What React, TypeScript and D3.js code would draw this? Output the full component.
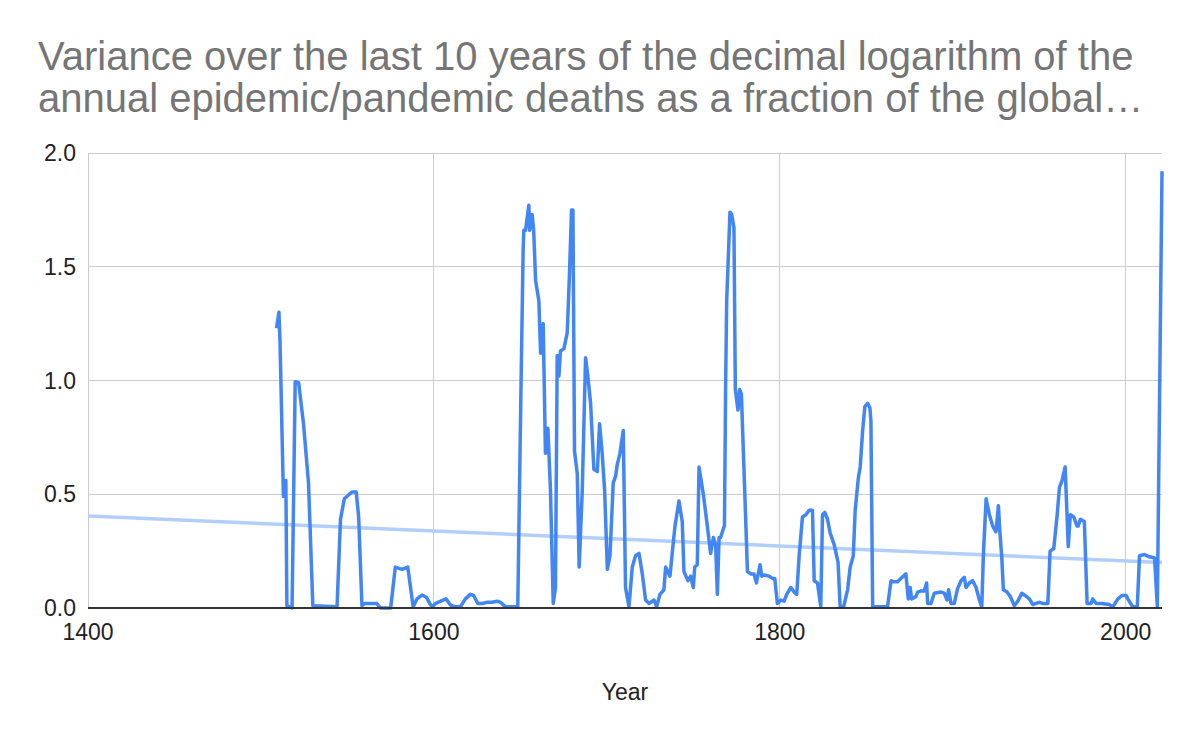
import React, { useEffect, useRef } from 'react';
import * as d3 from 'd3';

// values (year, variance)
const years = [
  1509, 1510.4, 1511, 1513, 1514.4, 1515, 1518, 1519.8, 1521.8, 1524.6, 1527.5, 1530,
  1544, 1546, 1548.2, 1552.6, 1555.1, 1556.5, 1558.4, 1560, 1567, 1569, 1575, 1577.7,
  1581.6, 1584.9, 1588, 1590.2, 1593.1, 1595.7, 1597.6, 1599, 1601, 1604, 1607, 1609.6,
  1612.4, 1615.3, 1618.2, 1621.1, 1623, 1625.4, 1628, 1630.4, 1633.7, 1636.6, 1638.5,
  1641.4, 1648.5, 1650.4, 1651.6, 1652, 1653, 1654.9, 1655.4, 1656.8, 1657.7, 1658.8,
  1660.7, 1661.7, 1663.2, 1664.5, 1665.9, 1667.4, 1669, 1670.3, 1671.3, 1672.3, 1673.2,
  1675.2, 1677.1, 1678.4, 1679.6, 1680.4, 1681.3, 1682.9, 1684, 1685.8, 1687.7, 1689,
  1690.6, 1692.5, 1694.5, 1695.8, 1697.3, 1698.7, 1700.3, 1701.8, 1703.7, 1705.1, 1706,
  1707.6, 1709.5, 1710.8, 1712.8, 1714.7, 1716.6, 1718.6, 1720.5, 1722.4, 1724.4, 1727.3,
  1728.8, 1730.7, 1733, 1734, 1736.5, 1737.8, 1739.4, 1741.7, 1743.6, 1744.6, 1746.9,
  1748.5, 1750, 1750.8, 1752.3, 1753.3, 1755.8, 1758.1, 1760, 1761.6, 1762.9, 1763.9,
  1764.9, 1765.8, 1767.4, 1768, 1768.7, 1769.3, 1771.2, 1772.2, 1773.5, 1774.3, 1775.8,
  1776.8, 1777.8, 1779.7, 1781.3, 1783.2, 1785.1, 1786.5, 1788.6, 1789.6, 1790.9, 1793.8,
  1795.7, 1797.1, 1798.6, 1800.6, 1802.5, 1804, 1806.4, 1808.3, 1809.8, 1811.2, 1813.1,
  1815.1, 1817, 1818.9, 1819.9, 1821.8, 1823.7, 1824.7, 1826, 1827.6, 1829.1, 1831.4,
  1833.7, 1834.9, 1836.9, 1839.2, 1840.7, 1842.5, 1843.6, 1845.4, 1846.5, 1847.9, 1849.2,
  1850.8, 1852.1, 1852.7, 1853.7, 1862.3, 1864.3, 1865.8, 1868.1, 1870, 1872.9, 1874.3,
  1875.4, 1876.2, 1878.7, 1879.7, 1881.6, 1883.5, 1884.9, 1885.5, 1887.4, 1889.3, 1893.2,
  1895.1, 1896.7, 1897.6, 1899, 1900.9, 1902.8, 1904.8, 1906.7, 1907.7, 1909.6, 1911.5,
  1913.5, 1915.4, 1916.8, 1917.7, 1919.3, 1921.2, 1923.1, 1925, 1926.4, 1927.3, 1928.3,
  1929.3, 1931.4, 1933.3, 1935.6, 1937.6, 1939.9, 1941.8, 1944.3, 1946.3, 1948.2, 1950.1,
  1952, 1955, 1956.3, 1958.4, 1960.4, 1961.7, 1963.2, 1965, 1966.8, 1968, 1970, 1971.9,
  1972.5, 1973.8, 1976.1, 1977.7, 1980, 1981, 1982.9, 1985.8, 1990.6, 1992.6, 1995.5,
  1997.8, 2000.3, 2001.6, 2004.1, 2006.7, 2008, 2010.9, 2013.8, 2016.7, 2018.3, 2021
];

const variance = [
  1.23, 1.30, 1.18, 0.49, 0.56, 0.01, 0.0, 0.995, 0.99, 0.81, 0.55, 0.01,
  0.005, 0.39, 0.48, 0.51, 0.51, 0.40, 0.01, 0.02, 0.02, 0.0, 0.0, 0.18,
  0.17, 0.18, 0.005, 0.04, 0.057, 0.047, 0.02, 0.005, 0.02, 0.03, 0.04, 0.013,
  0.005, 0.005, 0.04, 0.06, 0.055, 0.02, 0.02, 0.025, 0.025, 0.03, 0.025,
  0.005, 0.005, 0.99, 1.57, 1.66, 1.66, 1.77, 1.66, 1.73, 1.66, 1.44,
  1.35, 1.12, 1.25, 0.68, 0.79, 0.52, 0.02, 0.09, 1.11, 1.02, 1.13,
  1.14, 1.21, 1.47, 1.75, 1.75, 0.69, 0.59, 0.18, 0.52, 1.10, 1.02,
  0.90, 0.61, 0.60, 0.81, 0.68, 0.52, 0.17, 0.23, 0.55, 0.58, 0.63,
  0.68, 0.78, 0.09, 0.005, 0.18, 0.23, 0.24, 0.15, 0.035, 0.02, 0.035,
  0.005, 0.06, 0.08, 0.18, 0.14, 0.24, 0.36, 0.47, 0.38, 0.16, 0.12,
  0.14, 0.09, 0.18, 0.19, 0.62, 0.50, 0.36, 0.24, 0.31, 0.28, 0.06,
  0.31, 0.31, 0.35, 0.36, 0.99, 1.35, 1.74, 1.73, 1.67, 0.96, 0.87,
  0.96, 0.94, 0.52, 0.16, 0.15, 0.15, 0.11, 0.19, 0.14, 0.145, 0.14,
  0.13, 0.13, 0.02, 0.035, 0.03, 0.06, 0.09, 0.07, 0.06, 0.23, 0.40,
  0.41, 0.43, 0.43, 0.12, 0.11, 0.005, 0.41, 0.42, 0.39, 0.33, 0.28,
  0.20, 0.005, 0.005, 0.08, 0.18, 0.23, 0.43, 0.57, 0.62, 0.78, 0.885,
  0.90, 0.88, 0.82, 0.005, 0.005, 0.12, 0.115, 0.115, 0.13, 0.15, 0.04,
  0.09, 0.04, 0.05, 0.07, 0.075, 0.075, 0.11, 0.02, 0.02, 0.065, 0.07,
  0.065, 0.035, 0.08, 0.02, 0.02, 0.085, 0.12, 0.135, 0.09, 0.11, 0.12,
  0.09, 0.035, 0.005, 0.23, 0.48, 0.41, 0.36, 0.335, 0.45, 0.33, 0.23,
  0.08, 0.07, 0.05, 0.01, 0.03, 0.065, 0.055, 0.04, 0.015, 0.02, 0.025,
  0.02, 0.02, 0.25, 0.26, 0.41, 0.53, 0.56, 0.62, 0.27, 0.41, 0.40, 0.36,
  0.36, 0.39, 0.38, 0.02, 0.02, 0.04, 0.02, 0.02, 0.015, 0.005, 0.04,
  0.055, 0.055, 0.035, 0.005, 0.005, 0.23, 0.235, 0.225, 0.22, 0.005, 1.92
];

// linear trendline end values (at first and last x of the axis)
const trendYears = [1400, 2021];
const trendValues = [0.404, 0.2];

const xTicks = [1400, 1600, 1800, 2000];
const yTicks = [0, 0.5, 1.0, 1.5, 2.0];

const titleLines = [
  'Variance over the last 10 years of the decimal logarithm of the',
  'annual epidemic/pandemic deaths as a fraction of the global\u2026'
];
const xLabel = 'Year';

const width = 1200;
const height = 741;
const margins = { l: 88, t: 153, r: 38, b: 133 };
const FONT = '"Liberation Sans", Arial, sans-serif';

const App = () => {
  const container = useRef(null);

  useEffect(() => {
    document.body.style.margin = '0';
    createChart();
  }, []);

  const createChart = () => {
    const plotwidth = width - margins.l - margins.r;
    const plotheight = height - margins.t - margins.b;

    const svg = d3
      .select(container.current)
      .selectAll('svg')
      .data([0])
      .join('svg')
      .attr('width', width)
      .attr('height', height)
      .style('display', 'block')
      .style('background', '#fff');

    const xScale = d3.scaleLinear().domain([1400, 2021]).range([0, plotwidth]);
    const yScale = d3.scaleLinear().domain([0, 2]).range([plotheight, 0]);

    const plotg = svg
      .selectAll('.plotg')
      .data([0])
      .join('g')
      .attr('class', 'plotg')
      .attr('transform', `translate(${margins.l},${margins.t})`);

    // gridlines
    plotg
      .selectAll('.hgrid')
      .data(yTicks.filter(d => d > 0))
      .join('line')
      .attr('class', 'hgrid')
      .attr('x1', 0)
      .attr('x2', plotwidth)
      .attr('y1', d => yScale(d))
      .attr('y2', d => yScale(d))
      .style('stroke', '#cccccc')
      .style('stroke-width', 1)
      .attr('shape-rendering', 'crispEdges');

    plotg
      .selectAll('.vgrid')
      .data(xTicks)
      .join('line')
      .attr('class', 'vgrid')
      .attr('x1', d => xScale(d))
      .attr('x2', d => xScale(d))
      .attr('y1', 0)
      .attr('y2', plotheight)
      .style('stroke', '#cccccc')
      .style('stroke-width', 1)
      .attr('shape-rendering', 'crispEdges');

    // tick labels
    plotg
      .selectAll('.ylab')
      .data(yTicks)
      .join('text')
      .attr('class', 'ylab')
      .attr('x', -12)
      .attr('y', d => yScale(d) + 8)
      .attr('text-anchor', 'end')
      .style('font-family', FONT)
      .style('font-size', '23px')
      .style('fill', '#222222')
      .text(d => d3.format('.1f')(d));

    plotg
      .selectAll('.xlab')
      .data(xTicks)
      .join('text')
      .attr('class', 'xlab')
      .attr('x', d => xScale(d))
      .attr('y', plotheight + 32)
      .attr('text-anchor', 'middle')
      .style('font-family', FONT)
      .style('font-size', '23px')
      .style('fill', '#222222')
      .text(d => d);

    // trendline
    const trendData = trendYears.map((y, i) => ({ year: y, value: trendValues[i] }));
    const line = d3
      .line()
      .x(d => xScale(d.year))
      .y(d => yScale(d.value));

    plotg
      .selectAll('.trend-line')
      .data([trendData])
      .join('path')
      .attr('class', 'trend-line')
      .attr('d', line)
      .style('stroke', '#b3cefb')
      .style('stroke-width', 3.5)
      .style('fill', 'none');

    // series
    const seriesData = years.map((y, i) => ({ year: y, value: variance[i] }));
    plotg
      .selectAll('.series-line')
      .data([seriesData])
      .join('path')
      .attr('class', 'series-line')
      .attr('d', line)
      .style('stroke', '#4285f4')
      .style('stroke-width', 3.5)
      .style('stroke-linejoin', 'round')
      .style('fill', 'none');

    // baseline
    plotg
      .selectAll('.baseline')
      .data([0])
      .join('line')
      .attr('class', 'baseline')
      .attr('x1', 0)
      .attr('x2', plotwidth)
      .attr('y1', yScale(0))
      .attr('y2', yScale(0))
      .style('stroke', '#333333')
      .style('stroke-width', 2);

    /* LABELS AND TITLES */
    svg
      .selectAll('.title-text')
      .data(titleLines)
      .join('text')
      .attr('class', 'title-text')
      .attr('x', 38)
      .attr('y', (d, i) => 70 + i * 42)
      .style('font-family', FONT)
      .style('font-size', '40px')
      .style('fill', '#757575')
      .text(d => d);

    svg
      .selectAll('.x-axis-text')
      .data([xLabel])
      .join('text')
      .attr('class', 'x-axis-text')
      .attr('x', margins.l + plotwidth / 2)
      .attr('y', 700)
      .attr('text-anchor', 'middle')
      .style('font-family', FONT)
      .style('font-size', '23px')
      .style('fill', '#222222')
      .text(d => d);
  };

  return <div className="chart-container" ref={container}></div>;
};

export default App;
